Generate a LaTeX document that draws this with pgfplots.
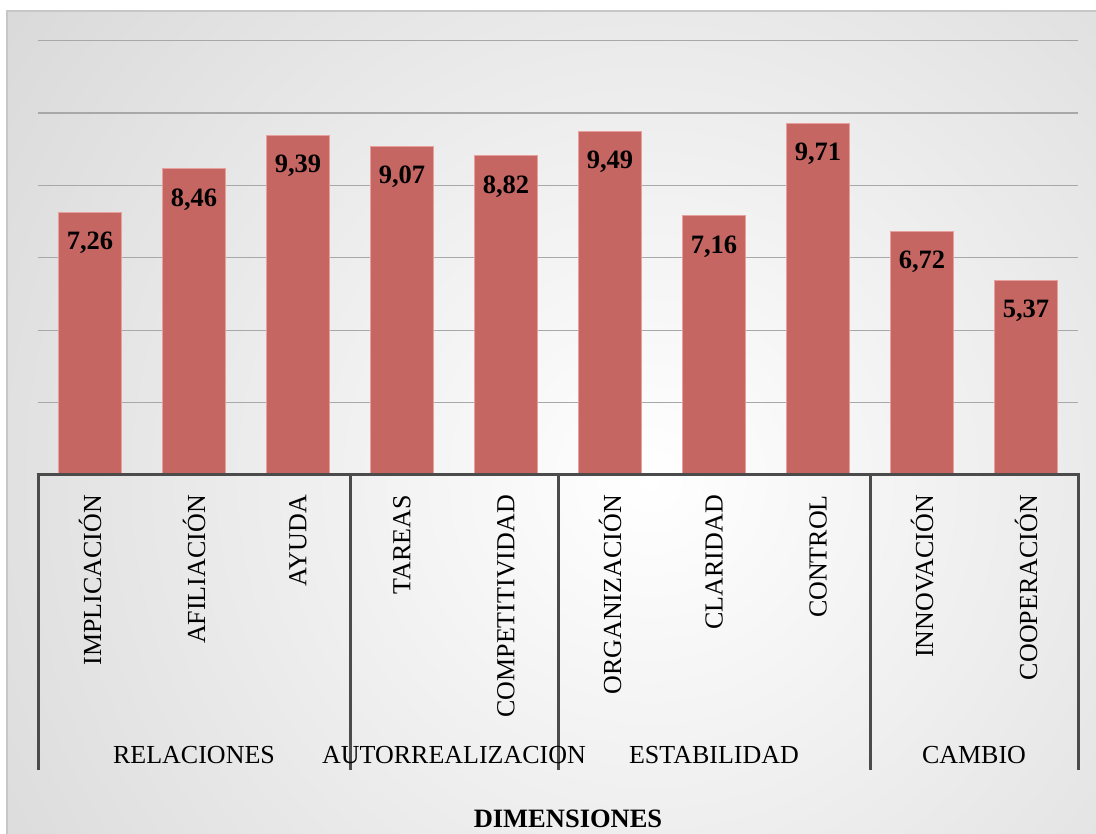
\documentclass[border=0pt]{standalone}
\usepackage{fontspec}
\setmainfont{Liberation Serif}
\usepackage{pgfplots}
\pgfplotsset{compat=1.18}
\usepackage{pgfplotstable}
\definecolor{barfill}{RGB}{198,102,99}
\definecolor{baredge}{RGB}{232,160,157}
\definecolor{axisgray}{RGB}{75,75,75}
\definecolor{gridgray}{RGB}{168,168,168}
\definecolor{bgouter}{RGB}{196,196,196}
\pgfplotstableread{
x y label
0 7.26 7,26
1 8.46 8,46
2 9.39 9,39
3 9.07 9,07
4 8.82 8,82
5 9.49 9,49
6 7.16 7,16
7 9.71 9,71
8 6.72 6,72
9 5.37 5,37
}\datatable
\begin{document}
\begin{tikzpicture}
\useasboundingbox (0pt,0pt) rectangle (1096pt,834pt);
\begin{scope}
\clip (7pt,0pt) rectangle (1096pt,823pt);
\shade[inner color=white, outer color=bgouter] (-600pt,-896pt) rectangle (1900pt,1604pt);
\end{scope}
\draw[black!22, line width=1.4pt] (7pt,0pt) -- (7pt,823pt) -- (1096pt,823pt);
\begin{axis}[
  at={(38pt,359pt)}, anchor=south west,
  scale only axis, width=1040pt, height=434.3pt,
  xmin=-0.5, xmax=9.5, ymin=0, ymax=12,
  axis line style={draw=none},
  ytick={2,4,...,12}, yticklabels={},
  ymajorgrids, grid style={gridgray, line width=1.3pt},
  major tick length=0pt,
  xtick={0,...,9},
  xticklabels={IMPLICACIÓN,AFILIACIÓN,AYUDA,TAREAS,COMPETITIVIDAD,ORGANIZACIÓN,CLARIDAD,CONTROL,INNOVACIÓN,COOPERACIÓN},
  xticklabel style={rotate=90, anchor=east, inner sep=0pt, font=\fontsize{26}{30}\selectfont},
  xticklabel shift=20pt,
  clip=false,
  ybar, bar width=63pt,
  nodes near coords, point meta=explicit symbolic,
  every node near coord/.append style={anchor=north, yshift=-19pt, inner sep=0pt, text=black, font=\fontsize{26.5}{30}\selectfont\bfseries},
]
\addplot[fill=barfill, draw=baredge, line width=1.2pt] table[x=x, y=y, meta=label] {\datatable};
\end{axis}
\draw[axisgray, line width=3pt] (36.5pt,359pt) -- (1079.5pt,359pt);
\foreach \xx in {38,350,558,870,1078} {
  \draw[axisgray, line width=3pt] (\xx pt,360.5pt) -- (\xx pt,64pt);
}
\begin{scope}[every node/.style={anchor=base, inner sep=0pt, font=\fontsize{26}{30}\selectfont}]
\node at (194pt,70pt) {RELACIONES};
\node at (454pt,70pt) {AUTORREALIZACION};
\node at (714pt,70pt) {ESTABILIDAD};
\node at (974pt,70pt) {CAMBIO};
\node[font=\fontsize{26.5}{30}\selectfont\bfseries] at (568pt,6pt) {DIMENSIONES};
\end{scope}
\end{tikzpicture}
\end{document}
